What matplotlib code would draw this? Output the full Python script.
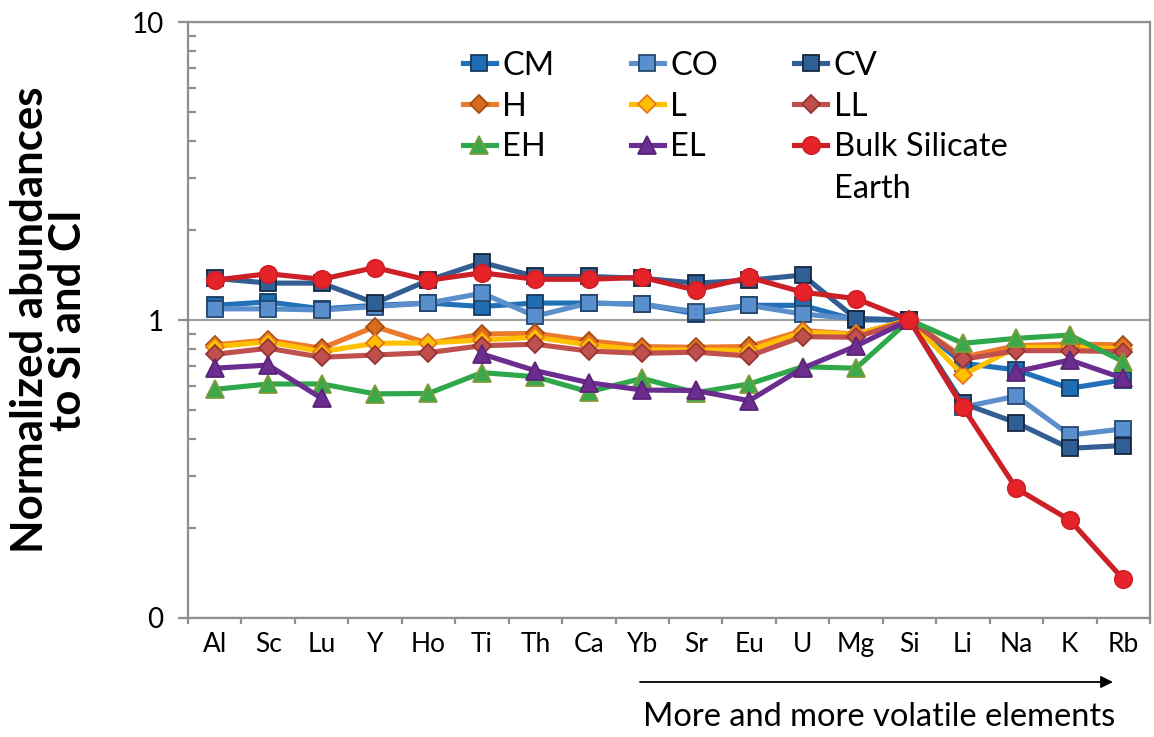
import numpy as np
import matplotlib
matplotlib.use("Agg")
import matplotlib.pyplot as plt
from matplotlib.ticker import FixedLocator, FuncFormatter, NullFormatter
from matplotlib.transforms import IdentityTransform

plt.rcParams['font.family'] = ['Lato', 'DejaVu Sans']

# Elements, ordered from refractory to volatile
elements = ['Al', 'Sc', 'Lu', 'Y', 'Ho', 'Ti', 'Th', 'Ca', 'Yb', 'Sr', 'Eu',
            'U', 'Mg', 'Si', 'Li', 'Na', 'K', 'Rb']

nan = np.nan
cm = [1.12, 1.15, 1.09, 1.12, 1.14, 1.11, 1.14, 1.14, 1.13, 1.05, 1.12, 1.12,
      1.00, 1.00, 0.716, 0.68, 0.59, 0.63]
co = [1.09, 1.09, 1.08, 1.11, 1.14, 1.23, 1.03, 1.14, 1.13, 1.066, 1.12, 1.047,
      1.01, 1.00, 0.51, 0.555, 0.411, 0.431]
cv = [1.38, 1.33, 1.33, 1.14, 1.36, 1.56, 1.40, 1.40, 1.38, 1.33, 1.36, 1.415,
      1.01, 1.00, 0.525, 0.452, 0.371, 0.379]
h = [0.825, 0.857, 0.804, 0.95, 0.835, 0.897, 0.902, 0.852, 0.814, 0.81, 0.815,
     0.921, 0.897, 1.00, 0.75, 0.82, 0.83, 0.825]
l = [0.814, 0.845, 0.783, 0.835, 0.838, 0.857, 0.875, 0.825, 0.793, 0.793, 0.79,
     0.91, 0.895, 1.00, 0.654, 0.81, 0.81, 0.80]
ll = [0.767, 0.804, 0.75, 0.763, 0.777, 0.82, 0.829, 0.787, 0.773, 0.78, 0.757,
      0.879, 0.875, 1.00, 0.738, 0.789, 0.789, 0.783]
eh = [0.585, 0.61, 0.61, 0.565, 0.567, 0.666, 0.645, 0.574, 0.637, 0.57, 0.61,
      0.697, 0.689, 1.00, 0.835, 0.868, 0.89, 0.725]
el = [0.689, 0.706, 0.546, nan, nan, 0.769, 0.676, 0.616, 0.582, 0.58, 0.536,
      0.689, 0.818, 1.00, nan, 0.671, 0.734, 0.637]
bse = [1.36, 1.43, 1.37, 1.50, 1.36, 1.44, 1.37, 1.37, 1.39, 1.26, 1.39, 1.24,
       1.18, 1.00, 0.51, 0.272, 0.213, 0.135]

# label, data, line colour, marker, face, edge, size
series = [
    ('CM', cm, '#2271B8', 's', '#1F6EB4', '#173A60', 11.5),
    ('CO', co, '#5B8FCC', 's', '#5A8FCE', '#26476F', 11.5),
    ('CV', cv, '#335E93', 's', '#305F96', '#16273F', 11.5),
    ('H', h, '#EC7A2C', 'D', '#D96A1E', '#A24F14', 9),
    ('L', l, '#FFC000', 'D', '#FFC000', '#E87722', 9),
    ('LL', ll, '#C0504D', 'D', '#C0504D', '#943634', 9),
    ('EH', eh, '#2EA84A', '^', '#3AA84B', '#7F9A3A', 12.5),
    ('EL', el, '#6B2D90', '^', '#6B2D90', '#5A2478', 12.5),
    ('Bulk Silicate', bse, '#CC1F26', 'o', '#E52329', '#D01F26', 12.5),
]

fig = plt.figure(figsize=(11.54, 7.37), dpi=100)
ax = fig.add_axes([0.1629, 0.1615, 0.8336, 0.8086])

x = np.arange(len(elements))
handles = []
for label, vals, lc, mk, fc, ec, ms in series:
    line, = ax.plot(x, vals, color=lc, lw=3.7, marker=mk, markersize=ms,
                    markerfacecolor=fc, markeredgecolor=ec, markeredgewidth=1.3,
                    label=label)
    handles.append(line)

ax.set_yscale('log')
ax.set_ylim(0.1, 10)
ax.set_xlim(-0.5, len(elements) - 0.5)

grey = '#8f8f8f'
for s in ax.spines.values():
    s.set_color(grey)
    s.set_linewidth(1.6)

ax.yaxis.set_major_locator(FixedLocator([0.1, 1, 10]))
ax.yaxis.set_major_formatter(FuncFormatter(lambda v, p: '%.0f' % v))
ax.yaxis.set_minor_locator(FixedLocator([k * 10.0 ** e for e in (-1, 0) for k in range(2, 10)]))
ax.yaxis.set_minor_formatter(NullFormatter())
ax.tick_params(axis='y', which='major', direction='out', length=7.5, width=1.6,
               color=grey, labelsize=20, pad=10)
ax.tick_params(axis='y', which='minor', direction='in', length=6, width=1.6, color=grey)
ax.grid(axis='y', which='major', color='#a0a0a0', lw=1.6)

ax.set_xticks(x)
ax.set_xticklabels(elements)
ax.set_xticks(np.arange(len(elements) + 1) - 0.5, minor=True)
ax.tick_params(axis='x', which='major', length=0, labelsize=19, pad=10)
ax.tick_params(axis='x', which='minor', direction='out', length=4.5, width=1.6, color=grey)

ax.set_ylabel('Normalized abundances\nto Si and CI', fontsize=31.5, fontweight='bold',
              linespacing=0.95)
ax.yaxis.set_label_coords(-0.104, 0.5)

order = [0, 3, 6, 1, 4, 7, 2, 5, 8]
leg = ax.legend([handles[i] for i in order], [handles[i].get_label() for i in order],
                ncol=3, frameon=False, fontsize=23.5, loc='upper left',
                bbox_to_anchor=(0.262, 0.99), handlelength=1.0, handletextpad=0.2,
                columnspacing=2.35, labelspacing=0.33, borderpad=0.2)

# second line of the Bulk Silicate Earth label
fig.canvas.draw()
bb = leg.get_texts()[-1].get_window_extent()
fig.text(bb.x0, bb.y0 - 42, 'Earth', fontsize=23.5, transform=IdentityTransform(),
         va='bottom', ha='left')

ax.annotate('', xy=(1113 / 1154, 1 - 682 / 737), xytext=(640 / 1154, 1 - 682 / 737),
            xycoords='figure fraction', textcoords='figure fraction',
            arrowprops=dict(arrowstyle='-|>', color='black', lw=1.3,
                            mutation_scale=18, shrinkA=0, shrinkB=0))
fig.text(1115 / 1154, 1 - 717 / 737, 'More and more volatile elements',
         ha='right', va='center', fontsize=23.5)

fig.savefig('out.png', dpi=100)
